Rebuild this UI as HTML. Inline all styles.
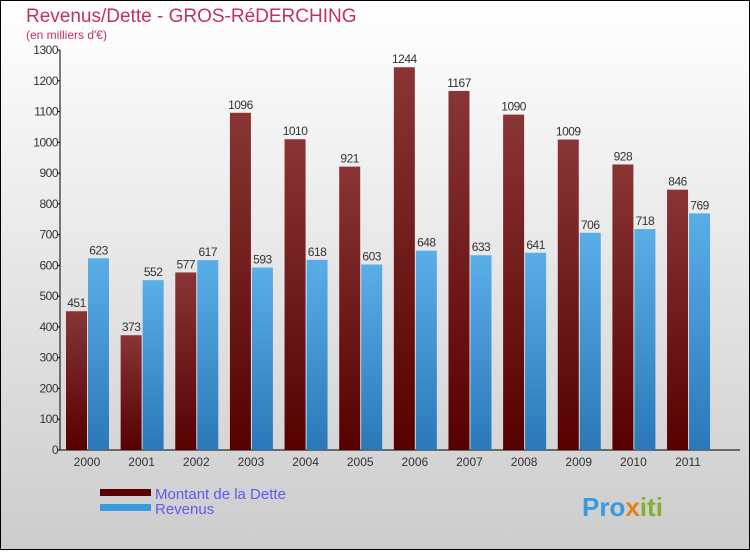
<!DOCTYPE html>
<html><head><meta charset="utf-8">
<style>
html,body{margin:0;padding:0}
body{width:750px;height:550px;overflow:hidden;font-family:"Liberation Sans",sans-serif}
</style></head>
<body>
<svg id="chart" width="750" height="550" xmlns="http://www.w3.org/2000/svg">
<defs>
<linearGradient id="bg" x1="0" y1="0" x2="0" y2="1"><stop offset="0" stop-color="#ffffff"/><stop offset="1" stop-color="#cccccc"/></linearGradient>
<linearGradient id="gd" x1="0" y1="0" x2="0" y2="1"><stop offset="0" stop-color="#8a3535"/><stop offset="1" stop-color="#560000"/></linearGradient>
<linearGradient id="gr" x1="0" y1="0" x2="0" y2="1"><stop offset="0" stop-color="#5aaee8"/><stop offset="1" stop-color="#2a78b8"/></linearGradient>
</defs>
<rect x="0.5" y="0.5" width="749" height="549" fill="url(#bg)" stroke="#000"/>
<text x="26" y="22" font-size="19" fill="#c0306a">Revenus/Dette - GROS-RéDERCHING</text>
<text x="26" y="39" font-size="12" fill="#c0306a">(en milliers d'€)</text>
<g id="axes"></g>
<g id="bars"></g>
<g>
<rect x="100" y="489" width="51" height="7" fill="#5a0000"/>
<text x="155" y="499" font-size="15" fill="#5b5bf0">Montant de la Dette</text>
<rect x="100" y="504" width="51" height="7" fill="#3a9ae0"/>
<text x="155" y="514" font-size="15" fill="#5b5bf0">Revenus</text>
</g>
<text x="582" y="516" font-size="26" font-weight="bold" fill="#3a9ae0">Pro<tspan fill="#e08020">x</tspan><tspan fill="#80b030">iti</tspan></text>
</svg>
<script>
const years=["2000","2001","2002","2003","2004","2005","2006","2007","2008","2009","2010","2011"];
const dette=[451,373,577,1096,1010,921,1244,1167,1090,1009,928,846];
const revenus=[623,552,617,593,618,603,648,633,641,706,718,769];
const yTicks=[0,100,200,300,400,500,600,700,800,900,1000,1100,1200,1300];
const NS="http://www.w3.org/2000/svg";
const y=v=>450-v*400/1300;
const cx=i=>87+i*54.64;
function mk(tag,attrs,parent){const e=document.createElementNS(NS,tag);for(const k in attrs)e.setAttribute(k,attrs[k]);parent.appendChild(e);return e;}
const ax=document.getElementById('axes'),bg=document.getElementById('bars');
let l=mk('line',{x1:60,y1:50,x2:60,y2:450,stroke:'#000'},ax);


l=mk('line',{x1:60,y1:450,x2:740,y2:450,stroke:'#000'},ax);


yTicks.forEach(t=>{
 const tk=mk('line',{x1:57,y1:y(t),x2:60,y2:y(t),stroke:'#000'},ax);
 
 
 const tx=mk('text',{x:58,y:y(t)+4,'font-size':12,'text-anchor':'end',fill:'#333','letter-spacing':'-0.5'},ax);
 tx.textContent=t;
 
 
});
years.forEach((yr,i)=>{
 const c=cx(i);
 const tx=mk('text',{x:c,y:466,'font-size':12,'text-anchor':'middle',fill:'#333'},ax);
 tx.textContent=yr;
 
 
 const b1=mk('rect',{x:c-21,y:y(dette[i]),width:21,height:450-y(dette[i]),fill:'url(#gd)'},bg);
 
 
 const b2=mk('rect',{x:c+1,y:y(revenus[i]),width:21,height:450-y(revenus[i]),fill:'url(#gr)'},bg);
 
 
 const v1=mk('text',{x:c-10.5,y:y(dette[i])-4,'font-size':12,'text-anchor':'middle',fill:'#333','letter-spacing':'-0.5'},bg);
 v1.textContent=dette[i];
 
 
 const v2=mk('text',{x:c+11.5,y:y(revenus[i])-4,'font-size':12,'text-anchor':'middle',fill:'#333','letter-spacing':'-0.5'},bg);
 v2.textContent=revenus[i];
 
 
});
</script>
</body></html>
